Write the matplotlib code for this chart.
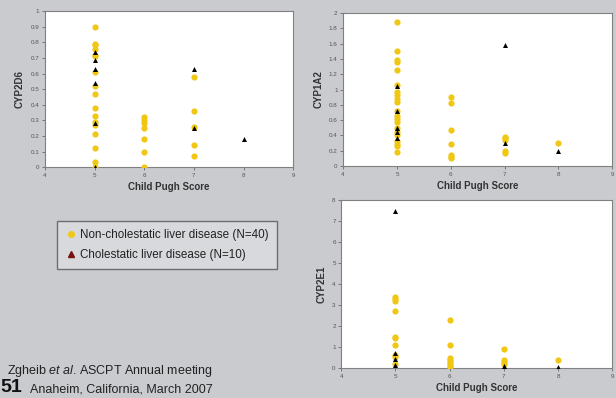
import numpy as np
import matplotlib.pyplot as plt
from matplotlib.lines import Line2D

plt.rcParams['font.family'] = ['Liberation Sans', 'DejaVu Sans']
plt.rcParams['mathtext.fontset'] = 'custom'
plt.rcParams['mathtext.rm'] = 'Liberation Sans'
plt.rcParams['mathtext.it'] = 'Liberation Sans:italic'

# CYP2D6 vs Child Pugh score
d6_yel_x = [5]*17 + [6]*7 + [7]*5
d6_yel_y = [0.90, 0.79, 0.78, 0.76, 0.72, 0.71, 0.61, 0.52, 0.47, 0.38, 0.33, 0.29, 0.27, 0.21, 0.12, 0.03, 0.0,
            0.32, 0.30, 0.28, 0.25, 0.18, 0.10, 0.0,
            0.58, 0.36, 0.26, 0.14, 0.07]
d6_tri_x = [5]*6 + [7]*2 + [8]
d6_tri_y = [0.74, 0.69, 0.63, 0.54, 0.28, 0.0, 0.63, 0.25, 0.18]

# CYP1A2
a2_yel_x = [5]*21 + [6]*7 + [7]*5 + [8]
a2_yel_y = [1.88, 1.50, 1.39, 1.36, 1.25, 1.06, 0.97, 0.93, 0.88, 0.84, 0.72, 0.66, 0.62, 0.57, 0.50, 0.45, 0.40, 0.33, 0.29, 0.26, 0.18,
            0.90, 0.82, 0.47, 0.29, 0.14, 0.12, 0.10,
            0.38, 0.36, 0.34, 0.20, 0.17,
            0.30]
a2_tri_x = [5]*5 + [7]*2 + [8]
a2_tri_y = [1.04, 0.72, 0.50, 0.44, 0.37, 1.58, 0.30, 0.20]

# CYP2E1
e1_yel_x = [5]*10 + [6]*8 + [7]*4 + [8]
e1_yel_y = [3.40, 3.30, 3.20, 2.70, 1.50, 1.45, 1.10, 0.65, 0.55, 0.20,
            2.30, 1.10, 0.50, 0.40, 0.30, 0.20, 0.10, 0.05,
            0.90, 0.40, 0.30, 0.20,
            0.40]
e1_tri_x = [5]*4 + [7]*2 + [8]
e1_tri_y = [7.5, 0.70, 0.45, 0.15, 0.10, 0.05, 0.05]

yellow = '#f0c814'
bg = '#c9cbcf'

fig = plt.figure(figsize=(6.16, 3.98), dpi=100, facecolor=bg)

def panel(rect, yx, yy, tx, ty, ymax, ystep, ylabel):
    ax = fig.add_axes(rect)
    ax.set_facecolor('white')
    ax.scatter(yx, yy, s=20, color=yellow, zorder=3, linewidths=0)
    ax.scatter(tx, ty, s=13, marker='^', color='black', zorder=4, linewidths=0)
    ax.set_xlim(4, 9)
    ax.set_ylim(0, ymax)
    ax.set_xticks(range(4, 10))
    yt = np.arange(0, ymax + ystep / 2, ystep)
    ax.set_yticks(yt)
    ax.set_yticklabels(['%g' % v for v in yt])
    ax.tick_params(labelsize=4.5, length=2, width=0.5, colors='#555555', pad=2)
    for sp in ax.spines.values():
        sp.set_color('#808080')
        sp.set_linewidth(0.8)
    ax.set_xlabel('Child Pugh Score', fontsize=7, fontweight='bold', color='#333333', labelpad=3)
    ax.set_ylabel(ylabel, fontsize=7, fontweight='bold', color='#333333', labelpad=4)
    return ax

panel([0.073, 0.580, 0.403, 0.392], d6_yel_x, d6_yel_y, d6_tri_x, d6_tri_y, 1, 0.1, 'CYP2D6')
panel([0.557, 0.583, 0.437, 0.384], a2_yel_x, a2_yel_y, a2_tri_x, a2_tri_y, 2, 0.2, 'CYP1A2')
panel([0.554, 0.075, 0.440, 0.422], e1_yel_x, e1_yel_y, e1_tri_x, e1_tri_y, 8, 1, 'CYP2E1')

handles = [Line2D([], [], marker='o', color=yellow, linestyle='none', markersize=4),
           Line2D([], [], marker='^', color='#7a1010', linestyle='none', markersize=4.5)]
leg = fig.legend(handles, ['Non-cholestatic liver disease (N=40)', 'Cholestatic liver disease (N=10)'],
                 loc='upper left', bbox_to_anchor=(0.083, 0.46), fontsize=8.4, frameon=True,
                 fancybox=False, handletextpad=0.3, handlelength=1.0, borderpad=0.7, labelspacing=0.7)
leg.get_frame().set_edgecolor('#555555')
leg.get_frame().set_facecolor('#dcdde0')
leg.get_frame().set_linewidth(1)
for t in leg.get_texts():
    t.set_color('#222222')

fig.text(0.012, 0.060, r'Zgheib $\it{et\ al}$. ASCPT Annual meeting', fontsize=9, color='#222222')
fig.text(0.048, 0.014, 'Anaheim, California, March 2007', fontsize=9, color='#222222')
fig.text(0.0, 0.014, '51', fontsize=14, fontweight='bold', color='#111111')

fig.savefig('out.png', dpi=100, facecolor=bg)
